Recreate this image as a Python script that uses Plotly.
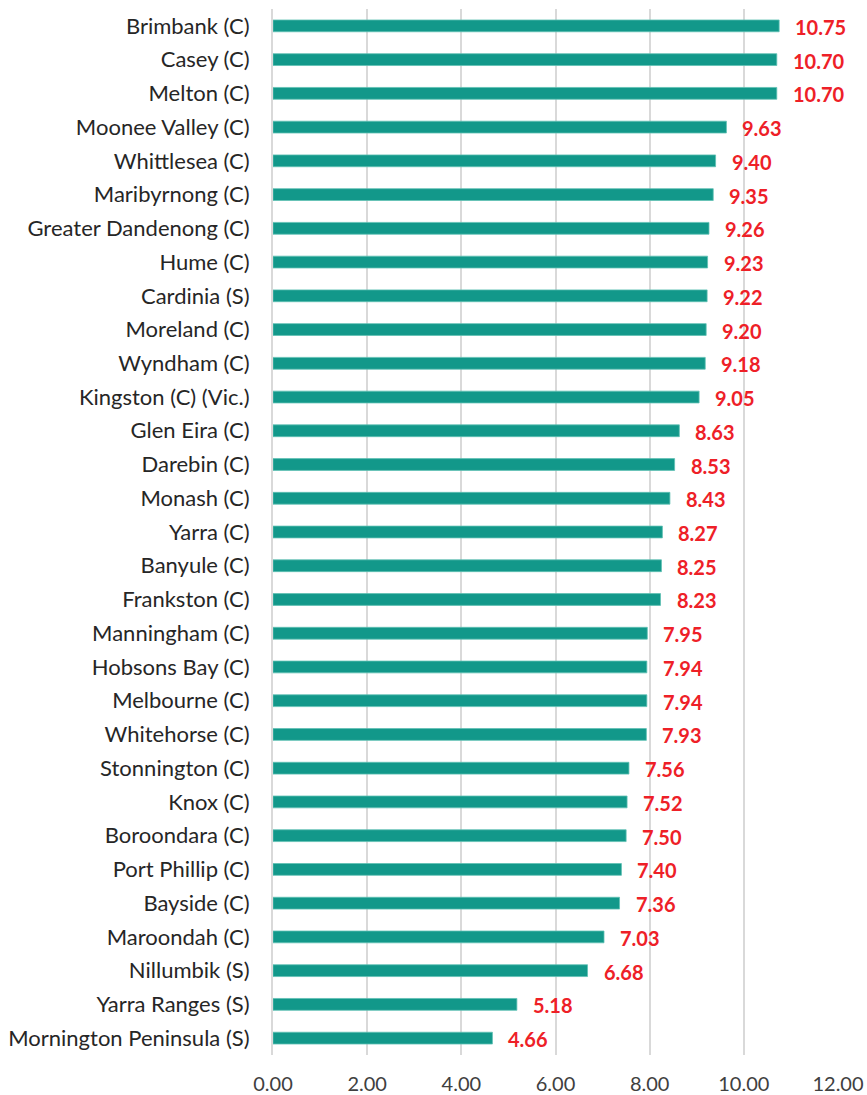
import plotly.graph_objects as go

categories = ["Brimbank (C)", "Casey (C)", "Melton (C)", "Moonee Valley (C)", "Whittlesea (C)",
              "Maribyrnong (C)", "Greater Dandenong (C)", "Hume (C)", "Cardinia (S)", "Moreland (C)",
              "Wyndham (C)", "Kingston (C) (Vic.)", "Glen Eira (C)", "Darebin (C)", "Monash (C)",
              "Yarra (C)", "Banyule (C)", "Frankston (C)", "Manningham (C)", "Hobsons Bay (C)",
              "Melbourne (C)", "Whitehorse (C)", "Stonnington (C)", "Knox (C)", "Boroondara (C)",
              "Port Phillip (C)", "Bayside (C)", "Maroondah (C)", "Nillumbik (S)", "Yarra Ranges (S)",
              "Mornington Peninsula (S)"]
values = [10.75, 10.70, 10.70, 9.63, 9.40, 9.35, 9.26, 9.23, 9.22, 9.20, 9.18, 9.05, 8.63, 8.53,
          8.43, 8.27, 8.25, 8.23, 7.95, 7.94, 7.94, 7.93, 7.56, 7.52, 7.50, 7.40, 7.36, 7.03, 6.68,
          5.18, 4.66]
x_ticks = [0, 2, 4, 6, 8, 10, 12]
x_tick_labels = ["0.00", "2.00", "4.00", "6.00", "8.00", "10.00", "12.00"]

FONT = "Lato"

fig = go.Figure(go.Bar(
    x=values, y=categories, orientation="h",
    width=0.35,
    marker=dict(color="#12988A", line=dict(color="#5fc0b4", width=0.8)),
    hoverinfo="x+y",
))

for c, v in zip(categories, values):
    fig.add_annotation(x=v, y=c, text=f"{v:.2f}", showarrow=False, xanchor="left",
                       xshift=14, yshift=-1,
                       font=dict(family=FONT, size=20, color="#EE2027", weight="bold"))

fig.update_layout(
    width=867, height=1095,
    margin=dict(l=273, r=29, t=9, b=40),
    paper_bgcolor="white", plot_bgcolor="white",
    showlegend=False,
    bargap=0.65,
    font=dict(family=FONT, size=20, color="#262626"),
)
fig.update_xaxes(range=[0, 12], tickvals=x_ticks, ticktext=x_tick_labels,
                 automargin=False,
                 showgrid=True, gridcolor="#d9d9d9", gridwidth=2,
                 zeroline=False, showline=False,
                 ticks="outside", ticklen=11, tickcolor="rgba(0,0,0,0)",
                 tickfont=dict(family=FONT, size=20, color="#404040"))
fig.update_yaxes(autorange="reversed", showgrid=False, zeroline=False,
                 automargin=False,
                 showline=True, linecolor="#d9d9d9", linewidth=2,
                 ticks="", ticklabelstandoff=17,
                 tickfont=dict(family=FONT, size=22, color="#262626"))

fig.write_html("out.html", config={"displayModeBar": False},
               post_script="document.body.style.margin='0';document.body.style.overflow='hidden';")
